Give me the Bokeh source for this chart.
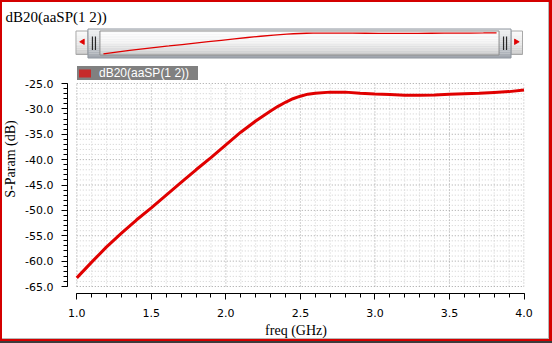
import numpy as np
from bokeh.plotting import figure
from bokeh.models import (Range1d, LinearAxis, SingleIntervalTicker, NumeralTickFormatter,
                          Legend, LegendItem)
from bokeh.layouts import column
from bokeh.embed import file_html
from bokeh.resources import INLINE

# ---------------- data ----------------
FREQ_GHZ = [1.0, 1.1, 1.2, 1.3, 1.4, 1.5, 1.6, 1.7, 1.8, 1.9, 2.0, 2.1, 2.2, 2.3, 2.35,
            2.4, 2.45, 2.5, 2.55, 2.6, 2.7, 2.8, 2.9, 3.0, 3.1, 3.2, 3.3, 3.4, 3.5, 3.6,
            3.7, 3.8, 3.9, 4.0]
DB20 = [-63.3, -60.2, -57.2, -54.5, -51.9, -49.5, -47.0, -44.5, -42.0, -39.6, -37.1,
        -34.6, -32.4, -30.4, -29.5, -28.7, -28.0, -27.5, -27.1, -26.9, -26.7, -26.7,
        -26.9, -27.05, -27.15, -27.3, -27.3, -27.25, -27.1, -27.0, -26.9, -26.75, -26.6,
        -26.3]
TITLE = "dB20(aaSP(1 2))"
X_LABEL = "freq (GHz)"
Y_LABEL = "S-Param (dB)"
X_MIN, X_MAX, X_MAJOR, X_MINOR = 1.0, 4.0, 0.5, 0.1
Y_MIN, Y_MAX, Y_MAJOR, Y_MINOR = -65.0, -25.0, 5.0, 1.0

RED = "#e00000"
BORDER_RED = "#d40000"

# ---------------- layout constants (canvas pixels) ----------------
W, H = 552, 343
FR_L, FR_R = 66, 524          # frame left / right
FR_T, FR_B = 24, 293          # frame top / bottom
X0_PX, X1_PX = 75.3, 523.5    # screen columns of X_MIN / X_MAX
Y0_PX, Y1_PX = 286.0, 83.0    # screen rows of Y_MIN / Y_MAX

sxm = (X1_PX - X0_PX) / (X_MAX - X_MIN)
sym = (Y0_PX - Y1_PX) / (Y_MAX - Y_MIN)
x_range = Range1d(X_MIN - (X0_PX - FR_L) / sxm, X_MIN + (FR_R - X0_PX) / sxm)
y_range = Range1d(Y_MIN - (FR_B - Y0_PX) / sym, Y_MIN + (Y0_PX - FR_T) / sym)

p = figure(width=W, height=H, x_range=x_range, y_range=y_range,
           output_backend="svg", toolbar_location=None,
           x_axis_type=None, y_axis_type=None, title=TITLE,
           min_border_left=FR_L, min_border_right=W - FR_R,
           min_border_top=FR_T, min_border_bottom=H - FR_B,
           outline_line_color=None, background_fill_color="white",
           border_fill_color=None)
p.title.align = "left"
p.title.offset = 4 - FR_L
p.title.standoff = 0
p.title.text_font = "Liberation Serif"
p.title.text_font_size = "15px"
p.title.text_font_style = "normal"
p.title.text_color = "black"

# pixel ranges covering the frame (for the scrollbar decoration)
p.extra_x_ranges["cx"] = Range1d(FR_L, FR_R)
p.extra_y_ranges["cy"] = Range1d(FR_B, FR_T)


def hex2rgb(h):
    h = h.lstrip("#")
    return [int(h[i:i + 2], 16) for i in (0, 2, 4)]


def grad_colors(stops, n):
    out = []
    for k in range(n):
        t = (k + 0.5) / n
        for (t0, c0), (t1, c1) in zip(stops[:-1], stops[1:]):
            if t0 <= t <= t1:
                a = (t - t0) / (t1 - t0)
                r0, r1 = hex2rgb(c0), hex2rgb(c1)
                rgb = [int(round(r0[i] + (r1[i] - r0[i]) * a)) for i in range(3)]
                out.append("#%02x%02x%02x" % tuple(rgb))
                break
    return out


def grad_box(x0, x1, y0, y1, stops, line, n=14):
    ys = np.linspace(y0, y1, n + 1)
    p.quad(left=[x0] * n, right=[x1] * n, top=list(ys[:-1]), bottom=list(ys[1:]),
           fill_color=grad_colors(stops, n), line_color=None,
           x_range_name="cx", y_range_name="cy")
    p.quad(left=[x0], right=[x1], top=[y0], bottom=[y1], fill_color=None,
           line_color=line, line_width=1, x_range_name="cx", y_range_name="cy")


BTN = [(0, "#fbfbfb"), (0.6, "#e6e6e6"), (1, "#c4c4c4")]
OUTER = [(0, "#f2f3f4"), (0.45, "#d6d9dc"), (1, "#9ea4ac")]
INNER = [(0, "#ffffff"), (0.4, "#f7f7f7"), (0.8, "#e2e2e2"), (1, "#c9c9c9")]

grad_box(74.5, 86.5, 30.5, 54, BTN, "#a8a8a8")
grad_box(510.5, 522, 30.5, 54, BTN, "#a8a8a8")
grad_box(86.5, 510.5, 28.5, 57.5, OUTER, "#8e959e")
grad_box(98.5, 498.5, 30.5, 54.5, INNER, "#8c8c8c")

for gxp in (91, 94, 503, 506):
    p.segment(x0=[gxp], y0=[36], x1=[gxp], y1=[49.5], line_color="#2a2a2a",
              line_width=1.2, x_range_name="cx", y_range_name="cy")
p.patches(xs=[[78.2, 82.8, 82.8], [518.7, 514.0, 514.0]],
          ys=[[41.3, 38.6, 44.0], [41.3, 38.6, 44.0]],
          fill_color=RED, line_color=RED, line_width=0.8,
          x_range_name="cx", y_range_name="cy")

# overview curve mapped into the scrollbar body
OV_X0, OV_X1 = 102.0, 496.0        # screen columns of freq min / max
OV_Y_LOW, OV_Y_HIGH = 53.3, 32.3   # screen rows of data min / max
fmin, fmax = min(FREQ_GHZ), max(FREQ_GHZ)
vmin, vmax = min(DB20), max(DB20)
sx = (OV_X1 - OV_X0) / (fmax - fmin)
sy = (OV_Y_LOW - OV_Y_HIGH) / (vmax - vmin)
p.extra_x_ranges["ov_x"] = Range1d(fmin + (FR_L - OV_X0) / sx, fmin + (FR_R - OV_X0) / sx)
p.extra_y_ranges["ov_y"] = Range1d(vmin + (OV_Y_LOW - FR_B) / sy, vmin + (OV_Y_LOW - FR_T) / sy)
p.line(FREQ_GHZ, DB20, x_range_name="ov_x", y_range_name="ov_y",
       line_color=RED, line_width=1.3)

# ---------------- axes ----------------
xaxis = LinearAxis(ticker=SingleIntervalTicker(interval=X_MAJOR, num_minor_ticks=5),
                   formatter=NumeralTickFormatter(format="0.0"),
                   bounds=(X_MIN, X_MAX), axis_label=X_LABEL)
yaxis = LinearAxis(ticker=SingleIntervalTicker(interval=Y_MAJOR, num_minor_ticks=5),
                   formatter=NumeralTickFormatter(format="0.0"),
                   bounds=(Y_MIN, Y_MAX), axis_label=Y_LABEL)
for ax, st, ls in ((xaxis, 9, 3), (yaxis, 8, 4)):
    ax.major_tick_out = 6
    ax.major_tick_in = 0
    ax.minor_tick_out = 4
    ax.minor_tick_in = 0
    ax.axis_line_color = "black"
    ax.major_tick_line_color = "black"
    ax.minor_tick_line_color = "black"
    ax.major_label_text_font = "DejaVu Sans"
    ax.major_label_text_font_size = "11px"
    ax.major_label_text_color = "black"
    ax.major_label_standoff = st
    ax.axis_label_text_font = "Liberation Serif"
    ax.axis_label_text_font_size = "14px"
    ax.axis_label_text_font_style = "normal"
    ax.axis_label_text_color = "black"
    ax.axis_label_standoff = ls
p.add_layout(xaxis, "below")
p.add_layout(yaxis, "left")

# ---------------- dotted grid restricted to the data box ----------------
nx = int(round((X_MAX - X_MIN) / X_MINOR)) + 1
ny = int(round((Y_MAX - Y_MIN) / Y_MINOR)) + 1
gx = [round(X_MIN + i * X_MINOR, 6) for i in range(nx)]
gy = [round(Y_MIN + i * Y_MINOR, 6) for i in range(ny)]
is_major_x = [abs((v - X_MIN) / X_MAJOR - round((v - X_MIN) / X_MAJOR)) < 1e-6 for v in gx]
is_major_y = [abs((v - Y_MIN) / Y_MAJOR - round((v - Y_MIN) / Y_MAJOR)) < 1e-6 for v in gy]
for major, col in ((False, "#cfcfcf"), (True, "#a2a2a2")):
    xs = [v for v, m in zip(gx, is_major_x) if m == major]
    ys = [v for v, m in zip(gy, is_major_y) if m == major]
    p.segment(x0=xs, y0=[Y_MIN] * len(xs), x1=xs, y1=[Y_MAX] * len(xs),
              line_color=col, line_width=1, line_dash="1 2")
    p.segment(x0=[X_MIN] * len(ys), y0=ys, x1=[X_MAX] * len(ys), y1=ys,
              line_color=col, line_width=1, line_dash="1 2")

# ---------------- curve ----------------
p.line(FREQ_GHZ, DB20, line_color=RED, line_width=3)

# ---------------- legend ----------------
swatch = p.quad(left=[np.nan], right=[np.nan], top=[np.nan], bottom=[np.nan],
                fill_color="#c62a2a", line_color=None)
legend = Legend(items=[LegendItem(label=TITLE, renderers=[swatch])],
                location=(76 - FR_L, FR_B - 80), orientation="vertical",
                background_fill_color="#808080", background_fill_alpha=1.0,
                border_line_color=None, padding=2, margin=0, spacing=0,
                glyph_width=15, glyph_height=10, label_standoff=7,
                label_width=99, label_height=12,
                label_text_font="Liberation Sans", label_text_font_size="12px",
                label_text_color="white")
p.add_layout(legend)

layout = column(p, spacing=0, styles={
    "background-color": "white",
    "box-shadow": ("inset 0 -2px 0 #3c3c3c, inset 0 -4px 0 %s, inset 2px 2px 0 %s, "
                   "inset -3px 0 0 %s, inset -4px -5px 0 #b8b8b8") % (BORDER_RED, BORDER_RED, BORDER_RED),
})

open("out.html", "w").write(file_html(layout, INLINE))
